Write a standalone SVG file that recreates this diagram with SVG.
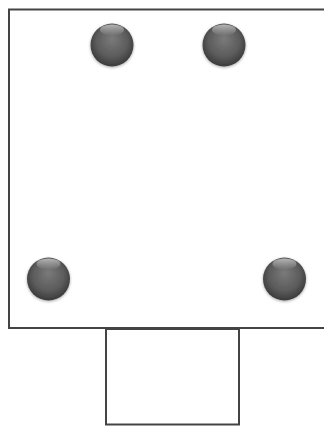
<svg xmlns="http://www.w3.org/2000/svg" width="324" height="426" viewBox="0 0 324 426">
<defs>
<radialGradient id="ball" cx="0.5" cy="0.45" r="0.6" fx="0.5" fy="0.35">
<stop offset="0" stop-color="#7a7a7a"/>
<stop offset="0.6" stop-color="#5c5c5c"/>
<stop offset="1" stop-color="#333333"/>
</radialGradient>
<linearGradient id="hl" x1="0" y1="0" x2="0" y2="1">
<stop offset="0" stop-color="#ffffff" stop-opacity="0.55"/>
<stop offset="1" stop-color="#ffffff" stop-opacity="0"/>
</linearGradient>
<filter id="sh" x="-30%" y="-30%" width="160%" height="160%">
<feGaussianBlur in="SourceAlpha" stdDeviation="1.5"/>
<feOffset dy="1"/>
<feComponentTransfer><feFuncA type="linear" slope="0.35"/></feComponentTransfer>
<feMerge><feMergeNode/><feMergeNode in="SourceGraphic"/></feMerge>
</filter>
<g id="sphere">
<circle r="21.5" fill="url(#ball)" filter="url(#sh)"/>
<ellipse cx="0" cy="-15" rx="12" ry="5.5" fill="url(#hl)"/>
</g>
</defs>
<style>
.box{fill:#ffffff;stroke:#444444;stroke-width:2}
</style>
<rect width="324" height="426" fill="#ffffff"/>
<g id="board">
<rect class="box" x="9" y="9.5" width="330" height="318.5"/>
</g>
<g id="tab">
<rect class="box" x="106" y="329" width="133" height="95.5"/>
</g>
<g id="ball1"><use href="#sphere" x="112" y="45"/></g>
<g id="ball2"><use href="#sphere" x="224" y="45"/></g>
<g id="ball3"><use href="#sphere" x="48.5" y="279"/></g>
<g id="ball4"><use href="#sphere" x="284.5" y="279"/></g>
<g id="connectors"/>
</svg>
